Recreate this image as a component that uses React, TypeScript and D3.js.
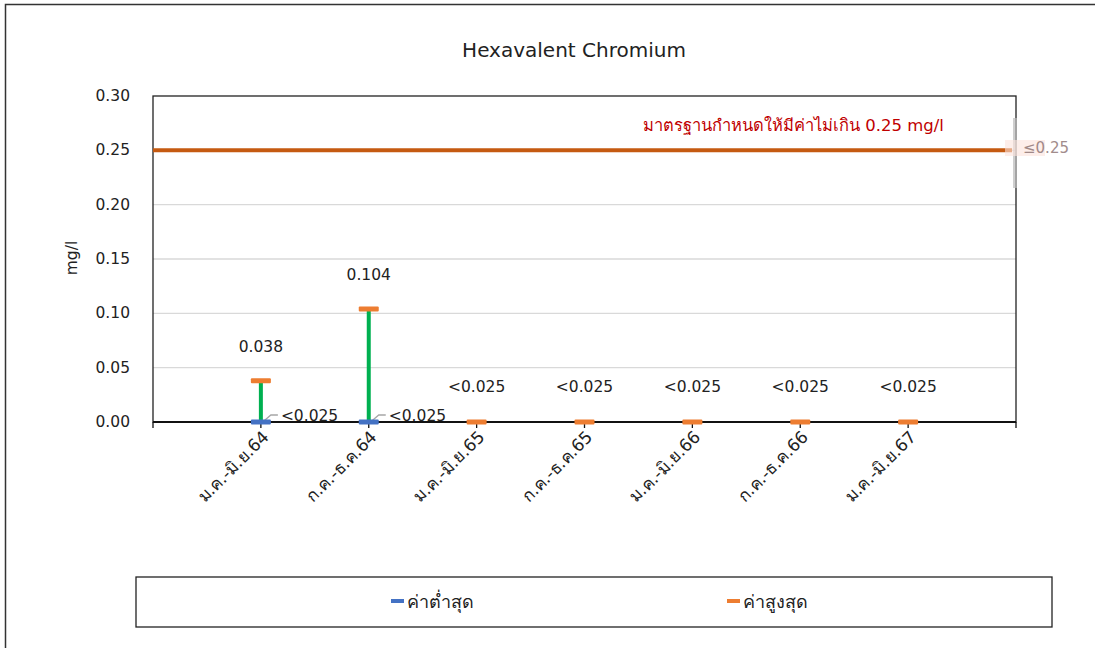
import React from "react";
import * as d3 from "d3";

const categories = ["ม.ค.-มิ.ย.64", "ก.ค.-ธ.ค.64", "ม.ค.-มิ.ย.65", "ก.ค.-ธ.ค.65", "ม.ค.-มิ.ย.66", "ก.ค.-ธ.ค.66", "ม.ค.-มิ.ย.67"];
const minValues = [0, 0, null, null, null, null, null];
const maxValues = [0.038, 0.104, 0, 0, 0, 0, 0];
const minLabels = ["<0.025", "<0.025", "", "", "", "", ""];
const maxLabels = ["0.038", "0.104", "<0.025", "<0.025", "<0.025", "<0.025", "<0.025"];
const yTicks = [0, 0.05, 0.1, 0.15, 0.2, 0.25, 0.3];
const standardValue = 0.25;
const standardLabel = "มาตรฐานกำหนดให้มีค่าไม่เกิน 0.25 mg/l";
const title = "Hexavalent Chromium";
const yTitle = "mg/l";
const legendItems = ["ค่าต่ำสุด", "ค่าสูงสุด"];

const W = 1095, H = 648;
const L = 153, R = 1016, T = 96, B = 422;
const font = "Tahoma, 'DejaVu Sans', 'Noto Sans', sans-serif";
const BLUE = "#4472C4", ORANGE = "#ED7D31", GREEN = "#00B050", STD = "#C55A11";

export default function App() {
  const x = d3.scaleLinear().domain([0, categories.length + 1]).range([L, R]);
  const y = d3.scaleLinear().domain([0, 0.3]).range([B, T]);
  const fmt = d3.format(".2f");
  return (
    <svg width={W} height={H} style={{ position: "absolute", left: 0, top: 0 }} fontFamily={font}>
      <rect x={0} y={0} width={W} height={H} fill="#fff" />
      <rect x={5.5} y={4.5} width={W + 10} height={H + 10} fill="none" stroke="#333" strokeWidth={1.5} />
      <text x={574} y={57} textAnchor="middle" fontSize={20} fill="#222">{title}</text>
      {yTicks.map((t) => (
        <g key={t}>
          {t > 0 && t < 0.3 && <line x1={L} x2={R} y1={y(t)} y2={y(t)} stroke="#d9d9d9" strokeWidth={1.3} />}
          <text x={130} y={y(t) + 5} textAnchor="end" fontSize={15.5} fill="#222">{fmt(t)}</text>
        </g>
      ))}
      <rect x={L} y={T} width={R - L} height={B - T} fill="none" stroke="#222" strokeWidth={1.3} />
      <line x1={L} x2={R} y1={B} y2={B} stroke="#111" strokeWidth={2} />
      {d3.range(0, categories.length + 2).map((i) => (
        <line key={i} x1={x(i)} x2={x(i)} y1={B} y2={B + 6} stroke="#111" strokeWidth={1.3} />
      ))}
      <text transform={`translate(77,258) rotate(-90)`} textAnchor="middle" fontSize={15.5} fill="#222">{yTitle}</text>
      <line x1={L} x2={R - 4} y1={y(standardValue)} y2={y(standardValue)} stroke={STD} strokeWidth={4} />
      <text x={643} y={131} fontSize={16.5} fill="#C00000">{standardLabel}</text>
      <rect x={1013} y={118} width={4} height={70} fill="#bbb" opacity={0.7} />
      <rect x={1005} y={140} width={40} height={16} fill="#fbe3dc" opacity={0.6} />
      <text x={1023} y={153} fontSize={15} fill="#8a7070" opacity={0.8}>≤0.25</text>
      {categories.map((c, i) => {
        const cx = x(i + 1);
        const mx = maxValues[i];
        const mn = minValues[i];
        return (
          <g key={c}>
            {mn !== null && mx !== null && mx > 0 && (
              <line x1={cx} x2={cx} y1={y(mn)} y2={y(mx)} stroke={GREEN} strokeWidth={4} />
            )}
            {mn !== null && (
              <>
                <polyline points={`${cx + 3},${y(mn) - 1} ${cx + 10},${y(mn) - 7} ${cx + 17},${y(mn) - 7}`} fill="none" stroke="#a6a6a6" strokeWidth={1.3} />
                <text x={cx + 20} y={y(mn) - 1} fontSize={15.5} fill="#222">{minLabels[i]}</text>
              </>
            )}
            {mx !== null && (
              <rect x={cx - 10} y={y(mx) - 2.5} width={20} height={5} rx={1} fill={ORANGE} />
            )}
            {mn !== null && (
              <rect x={cx - 10} y={y(mn) - 2.5} width={20} height={5} rx={1} fill={BLUE} />
            )}
            {mx !== null && (
              <text x={cx} y={mx > 0 ? y(mx) - 29 : 392} textAnchor="middle" fontSize={15.5} fill="#222">{maxLabels[i]}</text>
            )}
            <text transform={`translate(${cx + 9},${B + 16}) rotate(-45)`} textAnchor="end" fontSize={17} fill="#222">{c}</text>
          </g>
        );
      })}
      <rect x={136} y={577} width={916} height={50} fill="none" stroke="#222" strokeWidth={1.3} />
      <rect x={391} y={599} width={13} height={4} fill={BLUE} />
      <text x={407} y={608} fontSize={18} fill="#222">{legendItems[0]}</text>
      <rect x={727} y={599} width={13} height={4} fill={ORANGE} />
      <text x={743} y={608} fontSize={18} fill="#222">{legendItems[1]}</text>
    </svg>
  );
}
